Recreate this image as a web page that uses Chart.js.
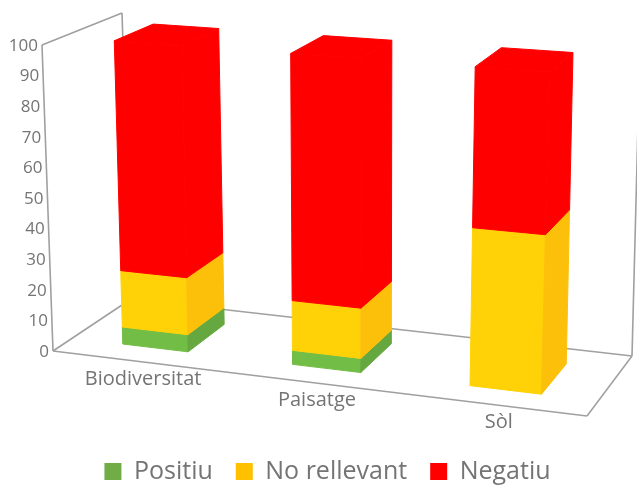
<!DOCTYPE html>
<html><head><meta charset="utf-8">
<style>html,body{margin:0;padding:0;background:#fff;overflow:hidden}canvas{display:block;filter:blur(0.6px)}</style>
<script src="https://cdn.jsdelivr.net/npm/chart.js@4"></script>
</head><body><canvas id="c" width="637" height="487"></canvas>
<script>
const categories = ['Biodiversitat', 'Paisatge', 'Sòl'];
const positiu = [5.6, 4.5, 0];
const noRellevant = [18.6, 16, 49.5];
const negatiu = [75.8, 79.5, 50.5];
const yTicks = [0, 10, 20, 30, 40, 50, 60, 70, 80, 90, 100];

const FRONT = ['#72BD45', '#FFD208', '#FF0000'];
const SIDE = ['#66A840', '#FDC00A', '#FF0000'];
const AXIS = '#a0a0a0', TEXT = '#747474';
// Screen corners of the 3D box: [u,v,w] = [right, up, back]
const C = {
  f0l:[53,351], f0r:[587,416], b0l:[131,299], b0r:[632,356],
  f1l:[42,45],  f1r:[598,86],  b1l:[122,13],  b1r:[640,47]
};
const WF = 0.25, WB = 0.76, K = 0.07;
const warp = u => u / (u + (1 - u) * (1 + K));
function P(u, v, w) {
  const mix = (a, b, t) => [a[0] + (b[0]-a[0])*t, a[1] + (b[1]-a[1])*t];
  const lo = mix(mix(C.f0l, C.f0r, u), mix(C.b0l, C.b0r, u), w);
  const hi = mix(mix(C.f1l, C.f1r, u), mix(C.b1l, C.b1r, u), w);
  return mix(lo, hi, v);
}
function poly(ctx, pts, col) {
  ctx.beginPath();
  pts.forEach((p, i) => i ? ctx.lineTo(p[0], p[1]) : ctx.moveTo(p[0], p[1]));
  ctx.closePath();
  ctx.fillStyle = col; ctx.strokeStyle = col; ctx.lineWidth = 1;
  ctx.fill(); ctx.stroke();
}
function line(ctx, a, b) {
  ctx.beginPath(); ctx.moveTo(a[0], a[1]); ctx.lineTo(b[0], b[1]); ctx.stroke();
}
const box3d = {
  id: 'box3d',
  beforeDatasetsDraw(chart) {
    const ctx = chart.ctx, a = chart.chartArea;
    const ys = chart.scales.y, xs = chart.scales.x;
    ctx.save();
    ctx.strokeStyle = AXIS; ctx.lineWidth = 1.6;
    [[C.f0l,C.f1l],[C.f1l,C.b1l],[C.b1l,C.b0l],[C.f0l,C.b0l],[C.b0l,C.b0r],
     [C.f0l,C.f0r],[C.f0r,C.b0r],[C.b0r,C.b1r]].forEach(s => line(ctx, s[0], s[1]));

    const norm = y => (a.bottom - y) / (a.bottom - a.top);
    categories.forEach((_, i) => {
      let top = null;
      chart.data.datasets.forEach((ds, d) => {
        const el = chart.getDatasetMeta(d).data[i];
        if (Math.abs(el.base - el.y) < 0.5) return;
        const u0 = warp((el.x - el.width/2 - a.left) / a.width);
        const u1 = warp((el.x + el.width/2 - a.left) / a.width);
        const v0 = norm(el.base), v1 = norm(el.y);
        poly(ctx, [P(u0,v0,WF),P(u1,v0,WF),P(u1,v1,WF),P(u0,v1,WF)], FRONT[d]);
        poly(ctx, [P(u1,v0,WF),P(u1,v0,WB),P(u1,v1,WB),P(u1,v1,WF)], SIDE[d]);
        top = [u0,u1,v1,SIDE[d]];
      });
      if (top) poly(ctx, [P(top[0],top[2],WF),P(top[0],top[2],WB),P(top[1],top[2],WB),P(top[1],top[2],WF)], top[3]);
    });

    ctx.fillStyle = TEXT; ctx.textBaseline = 'middle';
    ctx.font = '17px "Open Sans"'; ctx.textAlign = 'right';
    ys.ticks.forEach(t => {
      const p = P(0, norm(ys.getPixelForValue(t.value)), 0);
      ctx.fillText(t.label, p[0] - 4, p[1] + 1);
    });
    ctx.font = '20px "Open Sans"'; ctx.textAlign = 'center';
    categories.forEach((lab, i) => {
      const u = warp((xs.getPixelForValue(i) - a.left) / a.width);
      const p = P(u, 0, 0);
      ctx.fillText(lab, p[0] + 6, p[1] + 18);
    });
    ctx.restore();
    return false;
  }
};
new Chart(document.getElementById('c'), {
  type: 'bar',
  data: {
    labels: categories,
    datasets: [
      { label: 'Positiu', data: positiu, backgroundColor: '#70AD47', borderWidth: 0 },
      { label: 'No rellevant', data: noRellevant, backgroundColor: '#FFC000', borderWidth: 0 },
      { label: 'Negatiu', data: negatiu, backgroundColor: '#FF0000', borderWidth: 0 }
    ]
  },
  options: {
    responsive: false, animation: false, devicePixelRatio: 1,
    layout: { padding: { top: 45, left: 53, right: 35, bottom: -7 } },
    datasets: { bar: { categoryPercentage: 1, barPercentage: 0.39 } },
    plugins: {
      tooltip: { enabled: false },
      legend: { position: 'bottom', labels: {
        boxWidth: 17, boxHeight: 17, padding: 23, color: TEXT,
        font: { family: 'Open Sans', size: 25 }
      } }
    },
    scales: {
      x: { stacked: true, grid: { display: false }, border: { display: false },
           ticks: { display: false }, afterFit(s) { s.height = 68; } },
      y: { stacked: true, min: 0, max: 100, grid: { display: false }, border: { display: false },
           ticks: { display: false, stepSize: 10, callback: v => yTicks.includes(v) ? String(v) : '' },
           afterFit(s) { s.width = 0; } }
    }
  },
  plugins: [box3d]
});
</script></body></html>
